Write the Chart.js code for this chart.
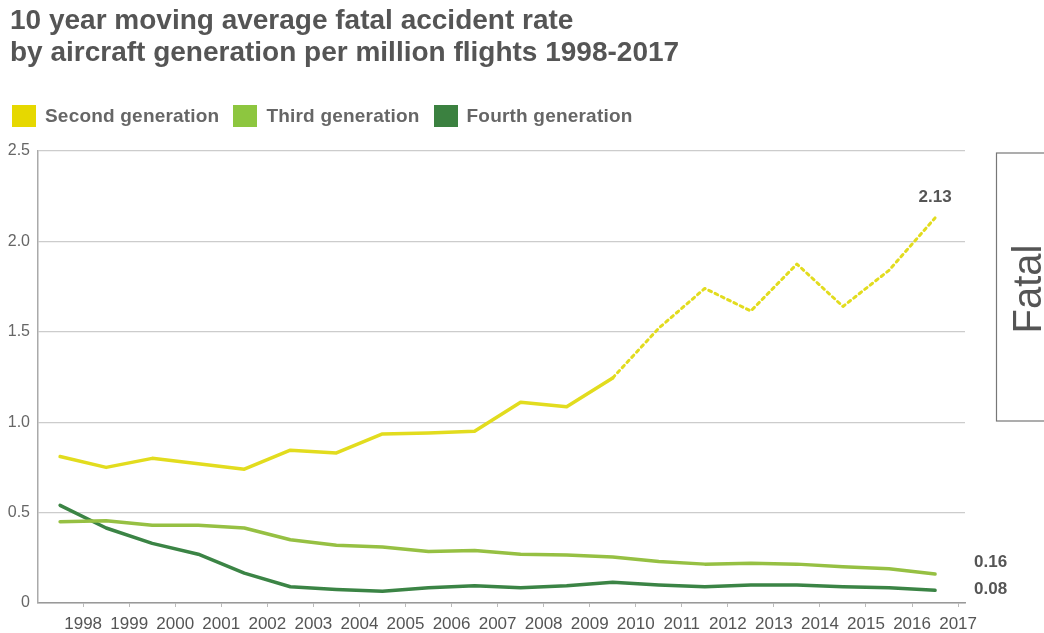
<!DOCTYPE html>
<html>
<head>
<meta charset="utf-8">
<script src="https://cdn.jsdelivr.net/npm/chart.js@4.4.0/dist/chart.umd.min.js"></script>
<style>
  body { margin: 0; background: #fff; }
  #wrap { position: relative; width: 1044px; height: 633px; font-family: "Liberation Sans", Arial, sans-serif; }
  #chart { position: absolute; left: 0; top: 0; }
  .title { position: absolute; left: 10px; top: 4px; font-size: 28px; font-weight: bold; color: #555; line-height: 32px; }
  .legend { position: absolute; left: 12px; top: 105px; display: flex; align-items: center; }
  .legend span.box { display: inline-block; width: 24px; height: 22px; margin-right: 9px; }
  .legend span.txt { font-size: 19px; font-weight: bold; color: #666; margin-right: 14px; letter-spacing: 0.2px; }
</style>
</head>
<body>
<div id="wrap">
  <canvas id="chart" width="1044" height="633"></canvas>
  <div class="title">10 year moving average fatal accident rate<br>by aircraft generation per million flights 1998-2017</div>
  <div class="legend" id="legend"></div>
</div>
<script>
// años del eje x
const years = [1998, 1999, 2000, 2001, 2002, 2003, 2004, 2005, 2006, 2007, 2008, 2009, 2010, 2011, 2012, 2013, 2014, 2015, 2016, 2017];

// series (tasa por millón de vuelos)
const secondGen = [0.81, 0.75, 0.80, 0.77, 0.74, 0.845, 0.83, 0.935, 0.94, 0.95, 1.11, 1.085, 1.245, 1.52, 1.74, 1.615, 1.875, 1.64, 1.84, 2.13];
const thirdGen = [0.45, 0.455, 0.43, 0.43, 0.415, 0.35, 0.32, 0.31, 0.285, 0.29, 0.27, 0.265, 0.255, 0.23, 0.215, 0.22, 0.215, 0.20, 0.19, 0.16];
const fourthGen = [0.54, 0.415, 0.33, 0.27, 0.165, 0.09, 0.075, 0.065, 0.085, 0.095, 0.085, 0.095, 0.115, 0.10, 0.09, 0.10, 0.10, 0.09, 0.085, 0.07];

const seriesNames = ['Second generation', 'Third generation', 'Fourth generation'];
const seriesColors = ['#e2dc1e', '#96c043', '#3b8445'];
const legendColors = ['#e6d800', '#8dc63f', '#3b8140'];
const endLabels = ['2.13', '0.16', '0.08'];
const yTicks = [0, 0.5, 1.0, 1.5, 2.0, 2.5];
const dottedFrom = 12; // a partir de 2010 la línea es punteada

// leyenda
const legendDiv = document.getElementById('legend');
seriesNames.forEach((name, i) => {
    legendDiv.innerHTML += `<span class="box" style="background:${legendColors[i]}"></span><span class="txt">${name}</span>`;
});

function toPoints(values) {
    return values.map((v, i) => ({ x: years[i] - 0.5, y: v }));
}

// etiquetas finales + caja "Fatal"
const extras = {
    id: 'extras',
    afterDraw(chart) {
        const ctx = chart.ctx;
        const ys = chart.scales.y;
        const area = chart.chartArea;

        ctx.save();
        ctx.fillStyle = '#555';
        ctx.font = 'bold 17px "Liberation Sans", Arial, sans-serif';
        ctx.textBaseline = 'middle';
        const last = years.length - 1;
        const p0 = chart.getDatasetMeta(0).data[last];
        ctx.textAlign = 'center';
        ctx.fillText(endLabels[0], p0.x, p0.y - 21);
        ctx.textAlign = 'left';
        ctx.fillText(endLabels[1], area.right + 9, ys.getPixelForValue(thirdGen[last]) - 12);
        ctx.fillText(endLabels[2], area.right + 9, ys.getPixelForValue(fourthGen[last]) - 1);

        ctx.strokeStyle = '#777';
        ctx.lineWidth = 1.2;
        ctx.strokeRect(996.5, area.top + 2, 60, 268);
        ctx.translate(1041, area.top + 138);
        ctx.rotate(-Math.PI / 2);
        ctx.textAlign = 'center';
        ctx.textBaseline = 'alphabetic';
        ctx.font = '40px "Liberation Sans", Arial, sans-serif';
        ctx.fillText('Fatal', 0, 0);
        ctx.restore();
    }
};

new Chart(document.getElementById('chart'), {
    type: 'line',
    data: {
        datasets: [
            {
                label: seriesNames[0],
                data: toPoints(secondGen),
                borderColor: seriesColors[0],
                borderWidth: 3.5,
                segment: {
                    borderDash: ctx => ctx.p0DataIndex >= dottedFrom ? [3, 4] : undefined,
                    borderWidth: ctx => ctx.p0DataIndex >= dottedFrom ? 3 : undefined
                }
            },
            { label: seriesNames[1], data: toPoints(thirdGen), borderColor: seriesColors[1], borderWidth: 3.5 },
            { label: seriesNames[2], data: toPoints(fourthGen), borderColor: seriesColors[2], borderWidth: 3.5 }
        ]
    },
    options: {
        responsive: false,
        animation: false,
        elements: { point: { radius: 0 }, line: { tension: 0, borderJoinStyle: 'round', borderCapStyle: 'round' } },
        layout: { padding: { top: 151, left: 0, right: 79, bottom: 0 } },
        plugins: { legend: { display: false }, tooltip: { enabled: false } },
        scales: {
            x: {
                type: 'linear',
                min: 1997.02,
                max: 2017.15,
                afterBuildTicks: scale => { scale.ticks = years.map(v => ({ value: v })); },
                afterFit: scale => { scale.height = 30; },
                grid: { drawOnChartArea: false, drawTicks: true, tickLength: 4, color: '#bbb', lineWidth: 1 },
                border: { display: true, color: '#999', width: 1.5 },
                ticks: {
                    padding: 7,
                    color: '#555',
                    font: { family: '"Liberation Sans", Arial, sans-serif', size: 17 },
                    callback: v => String(v),
                    maxRotation: 0,
                    autoSkip: false
                }
            },
            y: {
                min: 0,
                max: 2.5,
                afterBuildTicks: scale => { scale.ticks = yTicks.map(v => ({ value: v })); },
                afterFit: scale => { scale.width = 38; },
                grid: { color: '#ccc', lineWidth: 1.2, drawTicks: false },
                border: { display: true, color: '#aaa', width: 1.5 },
                ticks: {
                    padding: 8,
                    color: '#666',
                    font: { family: '"Liberation Sans", Arial, sans-serif', size: 16 },
                    callback: v => v === 0 ? '0' : v.toFixed(1)
                }
            }
        }
    },
    plugins: [extras]
});
</script>
</body>
</html>
